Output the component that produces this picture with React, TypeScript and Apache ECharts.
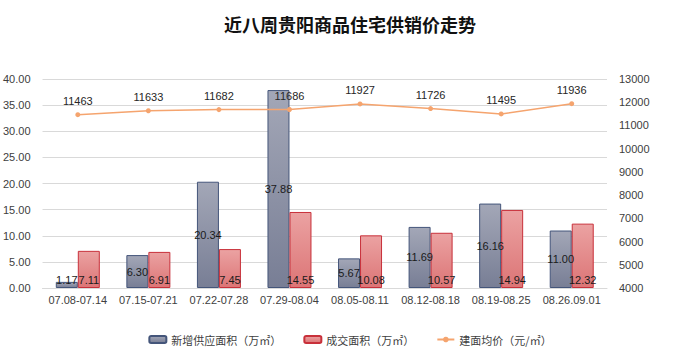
import React, { useEffect, useRef } from "react";
import * as echarts from "echarts";

const categories = ["07.08-07.14", "07.15-07.21", "07.22-07.28", "07.29-08.04", "08.05-08.11", "08.12-08.18", "08.19-08.25", "08.26.09.01"];
const supplyArea = [1.17, 6.30, 20.34, 37.88, 5.67, 11.69, 16.16, 11.00];
const dealArea = [7.11, 6.91, 7.45, 14.55, 10.08, 10.57, 14.94, 12.32];
const avgPrice = [11463, 11633, 11682, 11686, 11927, 11726, 11495, 11936];

const FONT = "'Liberation Sans', 'Noto Sans CJK SC', sans-serif";
const CJK = "'Noto Sans CJK SC', sans-serif";

export default function App() {
  const ref = useRef<HTMLDivElement>(null);
  useEffect(() => {
    if (!ref.current) return;
    const chart = echarts.init(ref.current, undefined, { renderer: "svg" });
    chart.setOption({
      animation: false,
      textStyle: { fontFamily: FONT },
      title: {
        text: "近八周贵阳商品住宅供销价走势",
        left: "center",
        top: 10,
        textStyle: { fontSize: 18, fontWeight: "bold", color: "#111", fontFamily: CJK },
      },
      legend: {
        bottom: 4,
        left: "center",
        itemWidth: 17,
        itemHeight: 7,
        itemGap: 22,
        textStyle: { fontSize: 11, color: "#404040", fontFamily: CJK },
        data: ["新增供应面积（万㎡）", "成交面积（万㎡）", "建面均价（元/㎡）"],
      },
      grid: { left: 40, right: 93, top: 79, bottom: 66 },
      xAxis: {
        type: "category",
        data: categories,
        axisTick: { show: false },
        axisLine: { lineStyle: { color: "#D9D9D9" } },
        axisLabel: { fontSize: 11, color: "#404040", margin: 6, interval: 0 },
      },
      yAxis: [
        {
          type: "value",
          min: 0,
          max: 40,
          interval: 5,
          axisLabel: { fontSize: 11, color: "#404040", formatter: (v: number) => v.toFixed(2), margin: 12 },
          splitLine: { lineStyle: { color: "#D9D9D9" } },
          axisLine: { show: false },
          axisTick: { show: false },
        },
        {
          type: "value",
          min: 4000,
          max: 13000,
          interval: 1000,
          axisLabel: { fontSize: 11, color: "#404040", margin: 12, formatter: (v: number) => String(v) },
          splitLine: { show: false },
          axisLine: { show: false },
          axisTick: { show: false },
        },
      ],
      series: [
        {
          name: "新增供应面积（万㎡）",
          type: "bar",
          data: supplyArea.map((v) => (v < 3 ? { value: v, label: { position: "insideBottom", distance: 3 } } : v)),
          barWidth: 22,
          barGap: "0%",
          itemStyle: {
            color: new echarts.graphic.LinearGradient(0, 0, 0, 1, [
              { offset: 0, color: "#A3A7B7" },
              { offset: 1, color: "#787E95" },
            ]),
            borderColor: "#44557A",
            borderWidth: 1,
          },
          label: {
            show: true,
            position: "inside",
            color: "#1a1a1a",
            fontSize: 11,
            formatter: (p: any) => Number(p.value).toFixed(2),
          },
        },
        {
          name: "成交面积（万㎡）",
          type: "bar",
          data: dealArea,
          barWidth: 22,
          itemStyle: {
            color: new echarts.graphic.LinearGradient(0, 0, 0, 1, [
              { offset: 0, color: "#EBA2A2" },
              { offset: 1, color: "#DC7576" },
            ]),
            borderColor: "#C8303A",
            borderWidth: 1,
          },
          label: {
            show: true,
            position: "insideBottom",
            distance: 3,
            color: "#1a1a1a",
            fontSize: 11,
            formatter: (p: any) => Number(p.value).toFixed(2),
          },
        },
        {
          name: "建面均价（元/㎡）",
          type: "line",
          yAxisIndex: 1,
          data: avgPrice,
          symbol: "circle",
          symbolSize: 5,
          lineStyle: { color: "#F5A46E", width: 1.5 },
          itemStyle: { color: "#F5A46E" },
          label: { show: true, position: "top", distance: 6, fontSize: 11, color: "#262626" },
        },
      ],
    });
    return () => chart.dispose();
  }, []);
  return <div ref={ref} style={{ position: "fixed", left: 0, top: 0, width: 700, height: 354, background: "#fff" }} />;
}
